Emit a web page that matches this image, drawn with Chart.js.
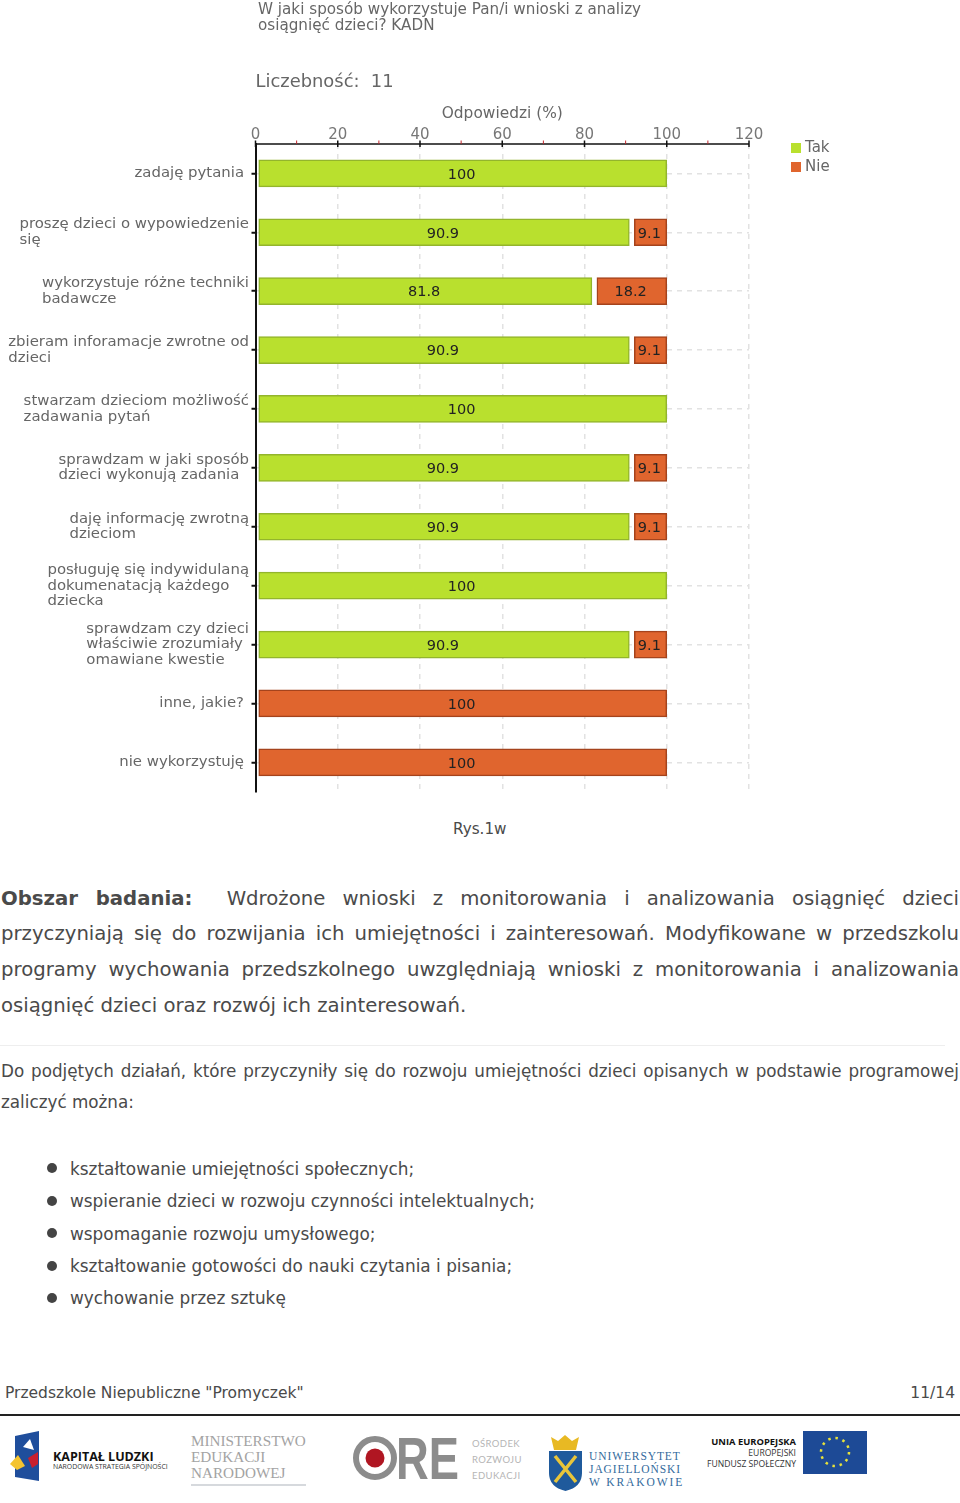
<!DOCTYPE html>
<html lang="pl">
<head>
<meta charset="utf-8">
<title>Rys.1w</title>
<script src="https://cdn.jsdelivr.net/npm/chart.js@4"></script>
<style>
  html, body { margin: 0; padding: 0; background: #fff; }
  body { width: 960px; height: 1503px; position: relative; overflow: hidden; font-family: "DejaVu Sans", sans-serif; color: #4a4a4a; }
  #chart-box { position: absolute; left: 0; top: 0; width: 960px; height: 810px; }
  .t { position: absolute; white-space: nowrap; }
  .just { position: absolute; left: 1px; width: 958px; font-size: 19.7px; text-align: justify; text-align-last: justify; white-space: normal; }
  .bullet { position: absolute; left: 47px; width: 10px; height: 10px; border-radius: 50%; background: #444; }
  #rule { position: absolute; left: 0; top: 1414px; width: 960px; height: 2px; background: #222; }
  #hr { position: absolute; left: 0; top: 1045px; width: 945px; height: 1px; background: #eee; }
  #logos { position: absolute; left: 0; top: 1420px; }
</style>
</head>
<body>
<div id="chart-box"><canvas id="chart" width="960" height="810"></canvas></div>

<div class="t" style="left:453px;top:820px;font-size:15.2px">Rys.1w</div>

<div class="just" style="top:887px"><b>Obszar badania:</b>&nbsp; Wdrożone wnioski z monitorowania i analizowania osiągnięć dzieci</div>
<div class="just" style="top:922px">przyczyniają się do rozwijania ich umiejętności i zainteresowań. Modyfikowane w przedszkolu</div>
<div class="just" style="top:958px">programy wychowania przedszkolnego uwzględniają wnioski z monitorowania i analizowania</div>
<div class="t" style="left:1px;top:994px;font-size:19.7px">osiągnięć dzieci oraz rozwój ich zainteresowań.</div>
<div id="hr"></div>
<div class="just" style="top:1061px;font-size:16.8px">Do podjętych działań, które przyczyniły się do rozwoju umiejętności dzieci opisanych w podstawie programowej</div>
<div class="t" style="left:1px;top:1092px;font-size:16.8px">zaliczyć można:</div>

<div class="bullet" style="top:1163px"></div><div class="t" style="left:70px;top:1159px;font-size:16.9px">kształtowanie umiejętności społecznych;</div>
<div class="bullet" style="top:1196px"></div><div class="t" style="left:70px;top:1191px;font-size:16.9px">wspieranie dzieci w rozwoju czynności intelektualnych;</div>
<div class="bullet" style="top:1228px"></div><div class="t" style="left:70px;top:1224px;font-size:16.9px">wspomaganie rozwoju umysłowego;</div>
<div class="bullet" style="top:1261px"></div><div class="t" style="left:70px;top:1256px;font-size:16.9px">kształtowanie gotowości do nauki czytania i pisania;</div>
<div class="bullet" style="top:1293px"></div><div class="t" style="left:70px;top:1288px;font-size:16.9px">wychowanie przez sztukę</div>

<div class="t" style="left:5px;top:1384px;font-size:15.5px">Przedszkole Niepubliczne "Promyczek"</div>
<div class="t" style="right:5px;top:1384px;font-size:15.5px">11/14</div>
<div id="rule"></div>

<svg id="logos" width="960" height="80" viewBox="0 1420 960 80">
  <polygon points="15,1436 39,1431 39,1481 15,1477" fill="#1f4e9c"/>
  <polygon points="30,1439 23,1447 34,1450" fill="#fff"/>
  <polygon points="10,1464 18,1455 25,1466 17,1470" fill="#f4c430"/>
  <polygon points="28,1458 38,1452 38,1464 32,1468" fill="#c8202f"/>
  <text x="53" y="1461" font-family="Open Sans" font-weight="700" font-size="12.5" fill="#111">KAPITAŁ LUDZKI</text>
  <text x="53" y="1469" font-family="Open Sans" font-size="6.9" fill="#333">NARODOWA STRATEGIA SPÓJNOŚCI</text>

  <g font-family="Liberation Serif" font-size="15.2" fill="#a3a3a3">
    <text x="191" y="1446">MINISTERSTWO</text>
    <text x="191" y="1462">EDUKACJI</text>
    <text x="191" y="1478">NARODOWEJ</text>
  </g>
  <line x1="191" y1="1485" x2="306" y2="1485" stroke="#c9cdd2" stroke-width="1.5"/>

  <circle cx="375" cy="1458" r="19" fill="none" stroke="#8c8c8c" stroke-width="6"/>
  <circle cx="375" cy="1458" r="9.5" fill="#b01622"/>
  <text x="396" y="1479" font-family="Liberation Sans" font-weight="700" font-size="59" fill="#8c8c8c" textLength="63" lengthAdjust="spacingAndGlyphs">RE</text>
  <g font-family="Lato" font-size="9.5" fill="#b5b5b5" letter-spacing="0.4">
    <text x="472" y="1447">OŚRODEK</text>
    <text x="472" y="1463">ROZWOJU</text>
    <text x="472" y="1479">EDUKACJI</text>
  </g>

  <path d="M549,1451 h33 v22 q0,14 -16.500,18 q-16.500,-4 -16.500,-18 z" fill="#1f5a9c"/>
  <path d="M551,1437 l7,4 l7,-6 l7,6 l7,-4 l-3,13 h-22 z" fill="#e8b923"/>
  <path d="M555,1456 L576,1482 M576,1456 L555,1482" stroke="#e8c53a" stroke-width="3.500"/>
  <g font-family="Liberation Serif" font-size="11.5" fill="#336a9c" letter-spacing="0.9">
    <text x="589" y="1460">UNIWERSYTET</text>
    <text x="589" y="1473">JAGIELLOŃSKI</text>
    <text x="589" y="1486" letter-spacing="1.9">W KRAKOWIE</text>
  </g>

  <g font-family="Open Sans" font-size="8.600" fill="#333" text-anchor="end">
    <text x="796" y="1445" font-size="9.400" font-weight="700" fill="#111">UNIA EUROPEJSKA</text>
    <text x="796" y="1456">EUROPEJSKI</text>
    <text x="796" y="1467">FUNDUSZ SPOŁECZNY</text>
  </g>
  <rect x="803" y="1431" width="64" height="43" fill="#1d4a96"/>
  <circle cx="835" cy="1452" r="14" fill="none" stroke="#e8e23a" stroke-width="2.500" stroke-dasharray="2.500 4.830"/>
</svg>

<script>
const categoryLines = [
  ["zadaję pytania"],
  ["proszę dzieci o wypowiedzenie", "się"],
  ["wykorzystuje różne techniki", "badawcze"],
  ["zbieram inforamacje zwrotne od", "dzieci"],
  ["stwarzam dzieciom możliwość", "zadawania pytań"],
  ["sprawdzam w jaki sposób", "dzieci wykonują zadania"],
  ["daję informację zwrotną", "dzieciom"],
  ["posługuję się indywidulaną", "dokumenatacją każdego", "dziecka"],
  ["sprawdzam czy dzieci", "właściwie zrozumiały", "omawiane kwestie"],
  ["inne, jakie?"],
  ["nie wykorzystuję"]
];
const tak = [100, 90.9, 81.8, 90.9, 100, 90.9, 90.9, 100, 90.9, null, null];
const nie = [null, 9.1, 18.2, 9.1, null, 9.1, 9.1, null, 9.1, 100, 100];
const seriesNames = ["Tak", "Nie"];
const titleLines = ["W jaki sposób wykorzystuje Pan/i wnioski z analizy", "osiągnięć dzieci? KADN"];
const subtitleText = "Liczebność:  11";
const axisTitle = "Odpowiedzi (%)";

const GREEN = "#b9e02e";
const GREEN_EDGE = "#93b52c";
const ORANGE = "#e0652e";
const ORANGE_EDGE = "#a5431c";

// bars do not touch the axis or each other in the original
const insetBars = {
  id: "insetBars",
  afterLayout(chart) {
    // main title starts a bit right of the axis
    chart.titleBlock.left += 2.5;
    chart.titleBlock.right += 2.5;
  },
  afterDatasetsUpdate(chart) {
    chart.data.datasets.forEach((ds, d) => {
      chart.getDatasetMeta(d).data.forEach((el, i) => {
        if (ds.data[i] == null) return;
        const prev = d > 0 ? chart.data.datasets[d - 1].data[i] : null;
        el.base += prev == null ? 2.5 : 5;
      });
    });
  }
};

const extras = {
  id: "extras",
  afterDatasetsDraw(chart) {
    const { ctx, scales } = chart;
    const x = scales.x, y = scales.y;
    ctx.save();

    // top axis, sits a little below the plot top
    const axisY = 144;
    ctx.strokeStyle = "#111";
    ctx.lineWidth = 1.5;
    ctx.beginPath();
    ctx.moveTo(x.left, axisY);
    ctx.lineTo(x.right, axisY);
    ctx.stroke();
    x.ticks.forEach((t) => {
      const px = x.getPixelForValue(t.value);
      const major = t.value % 20 === 0;
      ctx.strokeStyle = major ? "#111" : "#c0272d";
      ctx.lineWidth = major ? 1.5 : 1;
      ctx.beginPath();
      ctx.moveTo(px, axisY - 3.5);
      ctx.lineTo(px, major ? axisY + 3 : axisY);
      ctx.stroke();
    });

    // value labels inside the bars
    ctx.font = "14.5px 'DejaVu Sans'";
    ctx.fillStyle = "#222";
    ctx.textAlign = "center";
    ctx.textBaseline = "middle";
    chart.data.datasets.forEach((ds, d) => {
      chart.getDatasetMeta(d).data.forEach((el, i) => {
        if (ds.data[i] == null) return;
        ctx.fillText(String(ds.data[i]), (el.x + el.base) / 2 - 1.2, el.y + 1.5);
      });
    });

    // category labels: each block left aligned, block right edge near the axis
    ctx.font = "14.9px 'DejaVu Sans'";
    ctx.fillStyle = "#666";
    ctx.textAlign = "left";
    categoryLines.forEach((lines, i) => {
      const cy = y.getPixelForValue(i);
      const w = Math.max(...lines.map((l) => ctx.measureText(l).width));
      const right = lines.length === 1 ? 244 : 249;
      lines.forEach((l, n) => {
        ctx.fillText(l, right - w, cy + (n - (lines.length - 1) / 2) * 15.5);
      });
    });

    // legend
    ctx.font = "15px 'DejaVu Sans'";
    chart.data.datasets.forEach((ds, d) => {
      const ly = 148 + d * 19;
      ctx.fillStyle = ds.backgroundColor;
      ctx.fillRect(791, ly - 5, 10, 10);
      ctx.fillStyle = "#666";
      ctx.fillText(ds.label, 805, ly);
    });
    ctx.restore();
  }
};

new Chart(document.getElementById("chart"), {
  type: "bar",
  data: {
    labels: categoryLines.map((l) => l.join(" ")),
    datasets: [
      { label: seriesNames[0], data: tak, backgroundColor: GREEN, borderColor: GREEN_EDGE, borderWidth: 1.5, borderSkipped: false, barThickness: 27 },
      { label: seriesNames[1], data: nie, backgroundColor: ORANGE, borderColor: ORANGE_EDGE, borderWidth: 1.5, borderSkipped: false, barThickness: 27 }
    ]
  },
  options: {
    indexAxis: "y",
    responsive: false,
    animation: false,
    layout: { padding: { left: 0, right: 211, top: 0, bottom: 18.2 } },
    scales: {
      x: {
        position: "top",
        stacked: true,
        min: 0,
        max: 120,
        afterFit: (s) => { s.height = 50.5; },
        border: { display: false, dash: [5, 5] },
        grid: {
          drawTicks: false,
          color: (c) => (c.tick && c.tick.value % 20 === 0 ? "#e2e2e2" : "rgba(0,0,0,0)"),
          lineWidth: 1.5
        },
        ticks: {
          stepSize: 10,
          autoSkip: false,
          maxRotation: 0,
          padding: 0,
          color: "#777",
          font: { family: "DejaVu Sans", size: 15 },
          callback: (v) => (v % 20 === 0 ? String(v) : "")
        },
        title: {
          display: true,
          text: axisTitle,
          color: "#666",
          font: { family: "DejaVu Sans", size: 15.4 },
          padding: { top: 11, bottom: 0 }
        }
      },
      y: {
        stacked: true,
        afterFit: (s) => { s.width = 255.5; },
        border: { color: "#111", width: 2, dash: [5, 5] },
        grid: {
          offset: false,
          color: "#e2e2e2",
          lineWidth: 1.5,
          tickColor: "#111",
          tickLength: 4,
          tickWidth: 2
        },
        ticks: { display: false }
      }
    },
    plugins: {
      legend: { display: false },
      tooltip: { enabled: false },
      title: {
        display: true,
        text: titleLines,
        align: "start",
        fullSize: false,
        color: "#666",
        font: { family: "DejaVu Sans", size: 15.2, weight: "normal", lineHeight: 1.05 },
        padding: { top: 2, bottom: 0 }
      },
      subtitle: {
        display: true,
        text: subtitleText,
        align: "start",
        fullSize: false,
        color: "#666",
        font: { family: "DejaVu Sans", size: 17.9, weight: "normal" },
        padding: { top: 38, bottom: 0 }
      }
    }
  },
  plugins: [insetBars, extras]
});
</script>
</body>
</html>
